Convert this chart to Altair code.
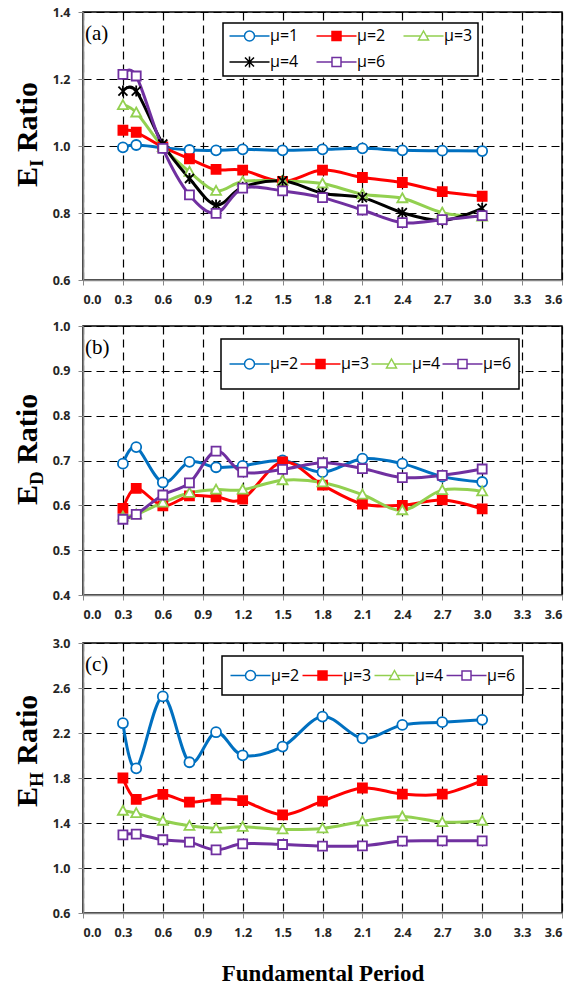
import altair as alt
import pandas as pd

# ---------------- data ----------------
periods = [0.3, 0.4, 0.6, 0.8, 1.0, 1.2, 1.5, 1.8, 2.1, 2.4, 2.7, 3.0]
x_ticks = [0.0, 0.3, 0.6, 0.9, 1.2, 1.5, 1.8, 2.1, 2.4, 2.7, 3.0, 3.3, 3.6]

# (a) E_I ratio
ei_series = ["μ=1", "μ=2", "μ=3", "μ=4", "μ=6"]
ei_mu1 = [0.996, 1.003, 0.995, 0.988, 0.987, 0.990, 0.987, 0.990, 0.993, 0.987, 0.986, 0.985]
ei_mu2 = [1.047, 1.041, 0.997, 0.962, 0.930, 0.928, 0.894, 0.928, 0.906, 0.891, 0.864, 0.850]
ei_mu3 = [1.122, 1.100, 0.997, 0.923, 0.866, 0.894, 0.896, 0.888, 0.856, 0.844, 0.801, 0.789]
ei_mu4 = [1.164, 1.164, 1.006, 0.903, 0.824, 0.877, 0.896, 0.859, 0.846, 0.801, 0.778, 0.814]
ei_mu6 = [1.214, 1.209, 0.993, 0.854, 0.799, 0.874, 0.866, 0.846, 0.809, 0.771, 0.780, 0.792]
ei_ticks = [0.6, 0.8, 1.0, 1.2, 1.4]

# (b) E_D ratio
ed_series = ["μ=2", "μ=3", "μ=4", "μ=6"]
ed_mu2 = [0.693, 0.730, 0.651, 0.697, 0.685, 0.688, 0.700, 0.674, 0.704, 0.693, 0.664, 0.652]
ed_mu3 = [0.593, 0.638, 0.599, 0.621, 0.619, 0.614, 0.697, 0.645, 0.603, 0.600, 0.612, 0.592]
ed_mu4 = [0.575, 0.580, 0.606, 0.628, 0.635, 0.635, 0.656, 0.651, 0.624, 0.589, 0.634, 0.631]
ed_mu6 = [0.569, 0.580, 0.623, 0.650, 0.721, 0.674, 0.680, 0.695, 0.682, 0.662, 0.667, 0.681]
ed_ticks = [0.4, 0.5, 0.6, 0.7, 0.8, 0.9, 1.0]

# (c) E_H ratio
eh_series = ["μ=2", "μ=3", "μ=4", "μ=6"]
eh_mu2 = [2.287, 1.886, 2.525, 1.940, 2.207, 2.002, 2.079, 2.346, 2.153, 2.272, 2.296, 2.317]
eh_mu3 = [1.800, 1.610, 1.654, 1.586, 1.610, 1.598, 1.473, 1.595, 1.711, 1.657, 1.657, 1.776]
eh_mu4 = [1.509, 1.488, 1.420, 1.375, 1.352, 1.366, 1.343, 1.352, 1.414, 1.458, 1.408, 1.420]
eh_mu6 = [1.295, 1.301, 1.251, 1.230, 1.161, 1.215, 1.209, 1.194, 1.197, 1.239, 1.242, 1.242]
eh_ticks = [0.6, 1.0, 1.4, 1.8, 2.2, 2.6, 3.0]

# ---------------- styles ----------------
BLUE, RED, GREEN, BLACK, PURPLE = "#0070C0", "#FF0000", "#92D050", "#000000", "#7030A0"
CIRCLE = "M1,0A1,1,0,1,1,-1,0A1,1,0,1,1,1,0Z"
SQUARE = "M-0.9,-0.9H0.9V0.9H-0.9Z"
TRIANGLE = "M0,-1L1,0.8L-1,0.8Z"
STAR = "M-0.9,-0.9L0.9,0.9M-0.9,0.9L0.9,-0.9M0,-1.1V1.1"
LEG = {
    CIRCLE: "M-4,0H-1M1,0H4" + CIRCLE,
    SQUARE: "M-4,0H-0.9M0.9,0H4" + SQUARE,
    TRIANGLE: "M-4,0H-0.56M0.56,0H4" + TRIANGLE,
    STAR: "M-4,0H4" + STAR,
}

W = 479

AX_COMMON = dict(
    labelFont="Open Sans", labelFontWeight="bold", labelFontSize=12.5, labelColor="#262626",
    tickColor="#888888", tickSize=5, domainColor="#888888", domainWidth=1.5,
    gridColor="black", gridDash=[8, 5], gridWidth=1.2, gridOpacity=1, format=".1f",
)


def long_df(series, values):
    rows = []
    for s, vals in zip(series, values):
        for p, v in zip(periods, vals):
            rows.append({"period": p, "value": v, "series": s})
    return pd.DataFrame(rows)


def panel(df, series, colors, fills, shapes, ydom, yticks, tag, title_sub, sub_w,
          title_y, legend, height, xtitle=None):
    xaxis = dict(AX_COMMON, values=x_ticks, labelPadding=8)
    if xtitle:
        xaxis.update(title=xtitle, titleFont="Liberation Serif", titleFontSize=23,
                     titleFontWeight="bold", titleColor="black", titlePadding=24)
    else:
        xaxis.update(title=None)
    x = alt.X("period:Q", scale=alt.Scale(domain=[0, 3.6], nice=False), axis=alt.Axis(**xaxis))
    y = alt.Y("value:Q", scale=alt.Scale(domain=ydom, nice=False, zero=False),
              axis=alt.Axis(values=yticks, title=None, labelPadding=8, **AX_COMMON))

    lines = alt.Chart(df).mark_line(interpolate="cardinal", strokeWidth=3).encode(
        x=x, y=y,
        color=alt.Color("series:N", scale=alt.Scale(domain=series, range=colors), legend=None),
    )
    pts = alt.Chart(df).mark_point(size=100, strokeWidth=1.8, opacity=1).encode(
        x=x, y=y,
        shape=alt.Shape("series:N", scale=alt.Scale(domain=series, range=shapes), legend=None),
        stroke=alt.Stroke("series:N", scale=alt.Scale(domain=series, range=colors), legend=None),
        fill=alt.Fill("series:N", scale=alt.Scale(domain=series, range=fills), legend=None),
    )
    lg = alt.Legend(**legend)
    leg = alt.Chart(df).transform_filter("false").mark_point(size=100, strokeWidth=2.5, opacity=1).encode(
        x=x, y=y,
        shape=alt.Shape("series:N", scale=alt.Scale(domain=series, range=[LEG[s] for s in shapes]), legend=lg),
        stroke=alt.Stroke("series:N", scale=alt.Scale(domain=series, range=colors), legend=lg),
        fill=alt.Fill("series:N", scale=alt.Scale(domain=series, range=fills), legend=lg),
    )

    tag_txt = alt.Chart(pd.DataFrame({"t": [tag]})).mark_text(
        align="left", baseline="middle", font="Liberation Serif", fontSize=21, color="black"
    ).encode(text="t:N", x=alt.value(2), y=alt.value(22))

    tbase = dict(angle=270, align="left", baseline="alphabetic", font="Liberation Serif",
                 fontWeight="bold", color="black")
    t_e = alt.Chart(pd.DataFrame({"t": ["E"]})).mark_text(fontSize=30, **tbase).encode(
        text="t:N", x=alt.value(-46), y=alt.value(title_y))
    t_sub = alt.Chart(pd.DataFrame({"t": [title_sub]})).mark_text(
        fontSize=19, dx=20, dy=6, **tbase).encode(text="t:N", x=alt.value(-46), y=alt.value(title_y))
    t_ratio = alt.Chart(pd.DataFrame({"t": ["Ratio"]})).mark_text(
        fontSize=30, dx=20 + sub_w + 7.5, **tbase).encode(text="t:N", x=alt.value(-46), y=alt.value(title_y))

    return alt.layer(lines, pts, leg, tag_txt, t_e, t_sub, t_ratio).resolve_scale(
        shape="independent", stroke="independent", fill="independent", color="independent"
    ).properties(width=W, height=height)


leg_common = dict(title=None, orient="none", direction="horizontal", labelFont="Open Sans",
                  labelFontSize=16, labelColor="black", strokeColor="black", fillColor="white",
                  symbolOffset=13.5, labelOffset=12.5, labelLimit=200, symbolSize=100)

pa = panel(
    long_df(ei_series, [ei_mu1, ei_mu2, ei_mu3, ei_mu4, ei_mu6]), ei_series,
    [BLUE, RED, GREEN, BLACK, PURPLE], ["white", RED, "white", BLACK, "white"],
    [CIRCLE, SQUARE, TRIANGLE, STAR, SQUARE], [0.6, 1.4], ei_ticks, "(a)", "I", 7.4, 175,
    dict(leg_common, legendX=140, legendY=11, columns=3, padding=5, rowPadding=9,
         columnPadding=14),
    268,
)
pb = panel(
    long_df(ed_series, [ed_mu2, ed_mu3, ed_mu4, ed_mu6]), ed_series,
    [BLUE, RED, GREEN, PURPLE], ["white", RED, "white", "white"],
    [CIRCLE, SQUARE, TRIANGLE, SQUARE], [0.4, 1.0], ed_ticks, "(b)", "D", 13.7, 179,
    dict(leg_common, legendX=138, legendY=13, columns=4, padding=7, columnPadding=0, clipHeight=36),
    269,
)
pc = panel(
    long_df(eh_series, [eh_mu2, eh_mu3, eh_mu4, eh_mu6]), eh_series,
    [BLUE, RED, GREEN, PURPLE], ["white", RED, "white", "white"],
    [CIRCLE, SQUARE, TRIANGLE, SQUARE], [0.6, 3.0], eh_ticks, "(c)", "H", 14.8, 164,
    dict(leg_common, legendX=139, legendY=13, columns=4, padding=7, columnPadding=1, clipHeight=25),
    270,
    xtitle="Fundamental Period",
)

chart = alt.vconcat(alt.vconcat(pa, pb, spacing=12), pc, spacing=14).properties(
    padding={"left": 12, "top": 5, "right": 4, "bottom": 4}, background="white"
).configure_view(stroke="black", strokeWidth=1.5).configure_legend(strokeWidth=1.5)

chart.save("out.html", embed_options={"renderer": "svg", "actions": False})
